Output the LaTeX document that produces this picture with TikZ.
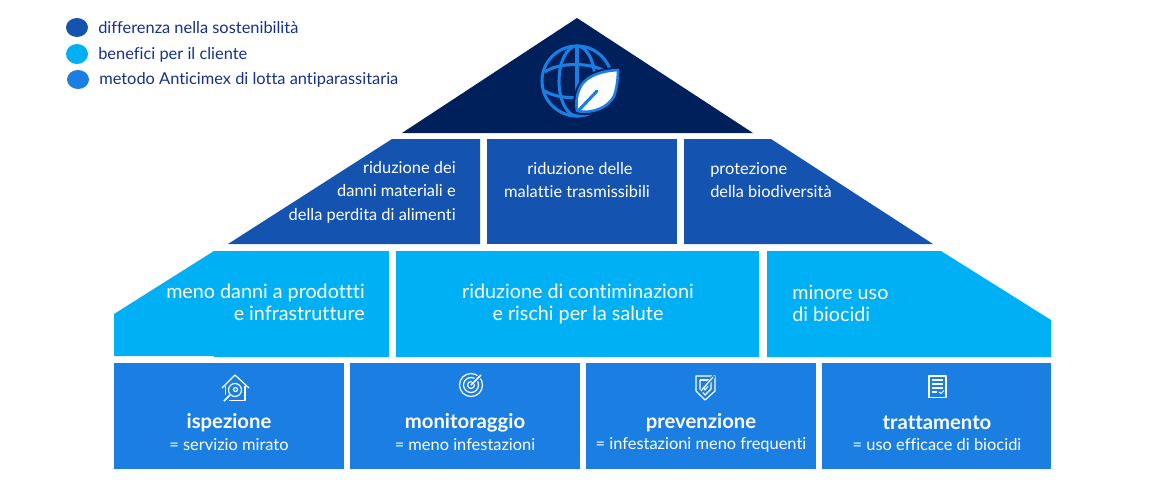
\documentclass[tikz,border=0pt]{standalone}
\usepackage{fontspec}
\setmainfont[Ligatures=NoCommon]{Lato}
\definecolor{navy}{HTML}{00205C}
\definecolor{dblue}{HTML}{1553B0}
\definecolor{cyanb}{HTML}{00B0F4}
\definecolor{midb}{HTML}{1A7EE2}
\definecolor{legtxt}{HTML}{15308C}
\tikzset{
  x=0.75pt,y=-0.75pt,
  pad/.style={fill=#1,draw=none},
  lab/.style={text=white,inner sep=0pt,font=\fontsize{12.3}{17.6}\selectfont},
  labb/.style={text=white,inner sep=0pt,font=\fontsize{14.8}{16.6}\selectfont},
  ttl/.style={text=white,inner sep=0pt,font=\fontsize{15.2}{18}\selectfont\bfseries},
  subt/.style={text=white,inner sep=0pt,font=\fontsize{12.3}{14}\selectfont},
  leg/.style={text=legtxt,inner sep=0pt,anchor=west,font=\fontsize{12.3}{14}\selectfont},
  ico/.style={draw=white,line width=0.9pt,fill=none,line join=round},
  globe/.style={draw=midb,line width=2.3pt,fill=none},
}
\begin{document}
\begin{tikzpicture}
\useasboundingbox (0,0) rectangle (1176,497);
% roof
\fill[pad=navy] (577,18) -- (753,133) -- (402,133) -- cycle;
% row 2
\fill[pad=dblue] (392,139) -- (480,139) -- (480,244) -- (228,244) -- cycle;
\fill[pad=dblue] (487,139) rectangle (677,244);
\fill[pad=dblue] (684,139) -- (771,139) -- (933,244) -- (684,244) -- cycle;
% row 3
\fill[pad=cyanb] (214,251) -- (389,251) -- (389,357) -- (214,357) -- (214,356) -- (114,356) -- (114,314) -- cycle;
\fill[pad=cyanb] (396,251) rectangle (759,357);
\fill[pad=cyanb] (767,251) -- (941,251) -- (1051,320) -- (1051,357) -- (767,357) -- cycle;
% row 4
\fill[pad=midb] (114,363) rectangle (344,469);
\fill[pad=midb] (350,363) rectangle (580,469);
\fill[pad=midb] (586,363) rectangle (816,469);
\fill[pad=midb] (822,363) rectangle (1051,469);
% legend
\fill[dblue] (77,27.5) ellipse (11 and 9.5);
\fill[cyanb] (77,54) ellipse (11 and 10);
\fill[midb] (78,79.5) ellipse (11 and 9.5);
\node[leg] (l1) at (98,28) {differenza nella sostenibilità};
\node[leg] (l2) at (98,55) {benefici per il cliente};
\node[leg] (l3) at (99,80) {metodo Anticimex di lotta antiparassitaria};
% globe icon
\draw[globe] (577,81) circle (35);
\draw[globe] (577,46) -- (577,116);
\draw[globe] (577,81) ellipse (18 and 35);
\draw[globe] (545,72) .. controls (558,62) and (592,62) .. (606,72);
\draw[globe] (545,91) .. controls (558,100) and (592,100) .. (606,91);
% leaf
\path[fill=navy,draw=navy,line width=5pt,line join=round]
  (618,70) .. controls (598,71) and (583,78) .. (579,90)
  .. controls (576,97) and (576,105) .. (577,111)
  .. controls (592,114) and (608,108) .. (614,96)
  .. controls (617,88) and (618,78) .. (618,70) -- cycle;
\path[fill=white,draw=midb,line width=2pt,line join=round]
  (618,70) .. controls (598,71) and (583,78) .. (579,90)
  .. controls (576,97) and (576,105) .. (577,111)
  .. controls (592,114) and (608,108) .. (614,96)
  .. controls (617,88) and (618,78) .. (618,70) -- cycle;
\draw[draw=midb,line width=2.3pt,line cap=round] (579,110) -- (597,91);
% row 2 text
\node[lab,align=right,anchor=east] (a1) at (456,192) {riduzione dei\\danni materiali e\\della perdita di alimenti};
\node[lab,align=center] (a2) at (577,180) {\hspace{0.37em}riduzione delle\\malattie trasmissibili};
\node[lab,align=left,anchor=west] (a3) at (710,180) {protezione\\della biodiversità};
% row 3 text
\node[labb,align=right,anchor=east] (b1) at (365,302) {meno danni a prodottti\\e infrastrutture};
\node[labb,align=center] (b2) at (578,303.5) {riduzione di contiminazioni\\e rischi per la salute};
\node[labb,align=left,anchor=west] (b3) at (792,303.5) {minore uso\\di biocidi};
% row 4 text
\node[ttl] (t1) at (229,423) {ispezione};
\node[subt] (s1) at (229,445) {= servizio mirato};
\node[ttl] (t2) at (465,423) {monitoraggio};
\node[subt] (s2) at (465,445) {= meno infestazioni};
\node[ttl] (t3) at (701,423) {prevenzione};
\node[subt] (s3) at (701,445) {= infestazioni meno frequenti};
\node[ttl] (t4) at (937,423) {trattamento};
\node[subt] (s4) at (937,445) {= uso efficace di biocidi};
% house icon
\draw[ico] (222,388) -- (235,375) -- (249,388);
\draw[ico] (225.5,386) -- (225.5,395) (245,386) -- (245,400.5) -- (229,400.5);
\draw[ico] (235,390) circle (6.5);
\draw[ico] (235.5,389.5) circle (2);
\draw[ico,line width=1.2pt] (230,395) -- (224,401);
% target icon
\draw[ico] (471,385) circle (11.5);
\draw[ico] (471,385) circle (7.5);
\draw[ico] (471,385) circle (3.5);
\draw[ico,draw=midb,line width=3pt] (473,383) -- (483,373);
\draw[ico,line width=1.1pt] (471,385) -- (481,375);
% shield icon
\draw[ico] (696,376) -- (715,376) -- (715,391) -- (705,400) -- (696,391) -- cycle;
\draw[ico] (700,380) -- (709,380);
\draw[ico] (711,381) -- (711,389) -- (705,395) -- (700,389) -- (700,380);
\draw[ico,draw=midb,line width=2.6pt] (700,393) -- (714,376);
\draw[ico] (701,391) -- (713,377);
\draw[ico] (703,387) -- (705,390) -- (708,386);
% document icon
\draw[ico] (929,376) rectangle (946,397.5);
\draw[ico] (932,380) -- (943,380) (932,384) -- (943,384) (932,388) -- (943,388) (932,392) -- (937,392);
\draw[ico,line width=0.7pt] (939,392) -- (941,393.5) -- (944,390.5);
\end{tikzpicture}
\end{document}
